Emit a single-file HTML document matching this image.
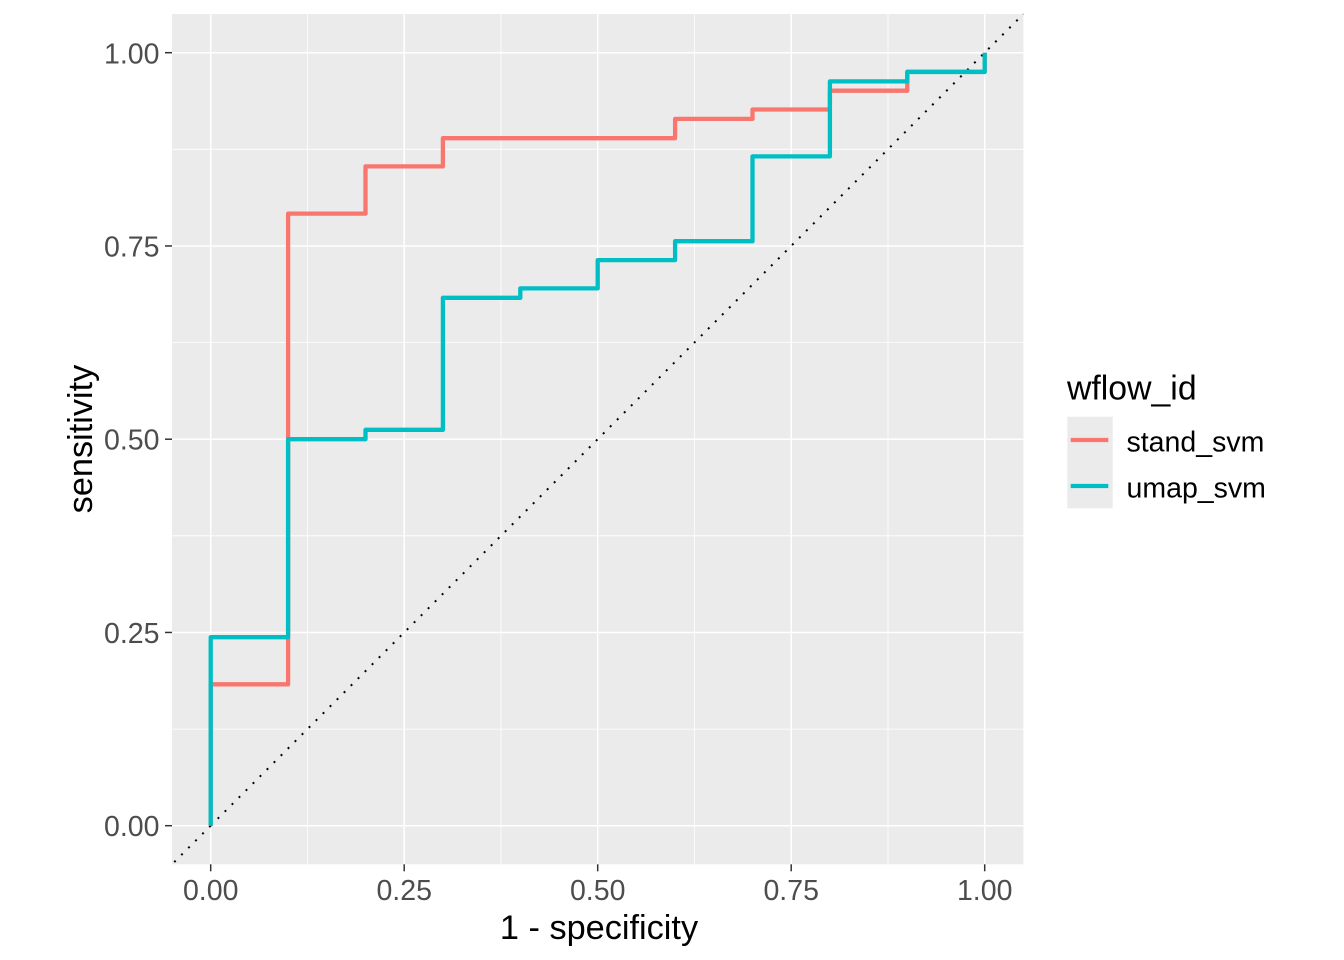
<!DOCTYPE html>
<html><head><meta charset="utf-8"><style>
html,body{margin:0;padding:0;background:#fff;}
svg{display:block;}
text{font-family:"Liberation Sans",Arial,sans-serif;}
</style></head><body>
<svg width="1344" height="960" viewBox="0 0 1344 960" xmlns="http://www.w3.org/2000/svg">
<rect x="0" y="0" width="1344" height="960" fill="#fff"/>
<!-- panel -->
<rect x="172" y="14" width="851.4" height="850.3" fill="#EBEBEB"/>
<!-- minor grid -->
<g stroke="#fff" stroke-width="0.8">
<line x1="172" x2="1023.4" y1="729.1" y2="729.1"/>
<line x1="172" x2="1023.4" y1="535.8" y2="535.8"/>
<line x1="172" x2="1023.4" y1="342.6" y2="342.6"/>
<line x1="172" x2="1023.4" y1="149.3" y2="149.3"/>
<line y1="14" y2="864.3" x1="307.5" x2="307.5"/>
<line y1="14" y2="864.3" x1="501" x2="501"/>
<line y1="14" y2="864.3" x1="694.5" x2="694.5"/>
<line y1="14" y2="864.3" x1="888" x2="888"/>
</g>
<!-- major grid -->
<g stroke="#fff" stroke-width="1.5">
<line x1="172" x2="1023.4" y1="825.7" y2="825.7"/>
<line x1="172" x2="1023.4" y1="632.45" y2="632.45"/>
<line x1="172" x2="1023.4" y1="439.2" y2="439.2"/>
<line x1="172" x2="1023.4" y1="245.95" y2="245.95"/>
<line x1="172" x2="1023.4" y1="52.7" y2="52.7"/>
<line y1="14" y2="864.3" x1="210.7" x2="210.7"/>
<line y1="14" y2="864.3" x1="404.2" x2="404.2"/>
<line y1="14" y2="864.3" x1="597.7" x2="597.7"/>
<line y1="14" y2="864.3" x1="791.2" x2="791.2"/>
<line y1="14" y2="864.3" x1="984.7" x2="984.7"/>
</g>
<!-- diagonal dotted -->
<g stroke="#000" stroke-width="2" stroke-dasharray="2 7.9" fill="none">
<line x1="210.7" y1="825.7" x2="1023.4" y2="14"/>
<line x1="210.7" y1="825.7" x2="172" y2="864.3"/>
</g>
<!-- stand_svm (red) -->
<polyline fill="none" stroke="#F8766D" stroke-width="4.3" stroke-linejoin="round" stroke-linecap="butt"
points="210.7,825.7 210.7,684.3 288.1,684.3 288.1,213.6 365.5,213.6 365.5,166.4 442.9,166.4 442.9,138.2 675.1,138.2 675.1,118.9 752.5,118.9 752.5,109.5 829.9,109.5 829.9,90.7 907.3,90.7 907.3,71.6 984.7,71.6 984.7,52.7"/>
<!-- umap_svm (teal) -->
<polyline fill="none" stroke="#00BFC4" stroke-width="4.3" stroke-linejoin="round" stroke-linecap="butt"
points="210.7,825.7 210.7,637.2 288.1,637.2 288.1,439.2 365.5,439.2 365.5,429.8 442.9,429.8 442.9,297.8 520.3,297.8 520.3,288.4 597.7,288.4 597.7,260.1 675.1,260.1 675.1,241.2 752.5,241.2 752.5,156.4 829.9,156.4 829.9,81.4 907.3,81.4 907.3,72.0 984.7,72.0 984.7,52.7"/>
<!-- axis ticks -->
<g stroke="#333" stroke-width="1.5">
<line x1="165" x2="172" y1="825.7" y2="825.7"/>
<line x1="165" x2="172" y1="632.45" y2="632.45"/>
<line x1="165" x2="172" y1="439.2" y2="439.2"/>
<line x1="165" x2="172" y1="245.95" y2="245.95"/>
<line x1="165" x2="172" y1="52.7" y2="52.7"/>
<line y1="864.3" y2="871.3" x1="210.7" x2="210.7"/>
<line y1="864.3" y2="871.3" x1="404.2" x2="404.2"/>
<line y1="864.3" y2="871.3" x1="597.7" x2="597.7"/>
<line y1="864.3" y2="871.3" x1="791.2" x2="791.2"/>
<line y1="864.3" y2="871.3" x1="984.7" x2="984.7"/>
</g>
<!-- y tick labels -->
<g fill="#4D4D4D" font-size="28.5" text-anchor="end">
<text x="159.5" y="836.2">0.00</text>
<text x="159.5" y="643">0.25</text>
<text x="159.5" y="449.7">0.50</text>
<text x="159.5" y="256.5">0.75</text>
<text x="159.5" y="63.3">1.00</text>
</g>
<!-- x tick labels -->
<g fill="#4D4D4D" font-size="28.5" text-anchor="middle">
<text x="210.7" y="900">0.00</text>
<text x="404.2" y="900">0.25</text>
<text x="597.7" y="900">0.50</text>
<text x="791.2" y="900">0.75</text>
<text x="984.7" y="900">1.00</text>
</g>
<!-- axis titles -->
<text x="599" y="939" font-size="34.3" text-anchor="middle" fill="#000">1 - specificity</text>
<text transform="translate(92,439) rotate(-90)" font-size="34.3" text-anchor="middle" fill="#000">sensitivity</text>
<!-- legend -->
<text x="1067" y="399.3" font-size="33.8" fill="#000">wflow_id</text>
<rect x="1067.3" y="416.7" width="45.4" height="91.6" fill="#EBEBEB"/>
<line x1="1070.7" x2="1108.3" y1="440" y2="440" stroke="#F8766D" stroke-width="4.3"/>
<line x1="1070.7" x2="1108.3" y1="486" y2="486" stroke="#00BFC4" stroke-width="4.3"/>
<g font-size="28.5" fill="#000">
<text x="1126.5" y="451.3">stand_svm</text>
<text x="1126.5" y="497.3">umap_svm</text>
</g>
</svg>
</body></html>
